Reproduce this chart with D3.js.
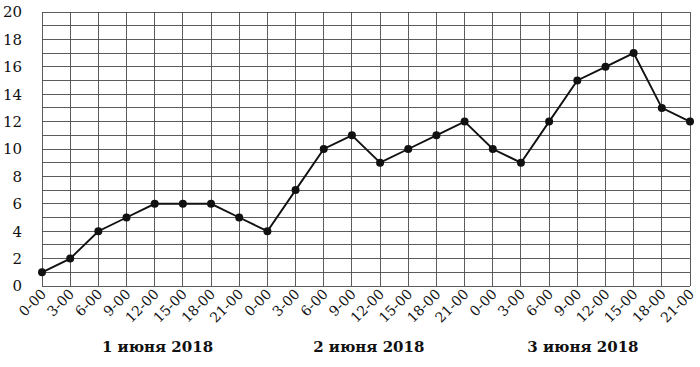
<!DOCTYPE html>
<html><head><meta charset="utf-8">
<script src="https://cdn.jsdelivr.net/npm/d3@7"></script>
<style>body{margin:0;background:#fff}svg{display:block}</style>
</head><body>
<svg id="c" width="700" height="367"></svg>
<script>
const timeLabels = ["0-00","3-00","6-00","9-00","12-00","15-00","18-00","21-00",
  "0-00","3-00","6-00","9-00","12-00","15-00","18-00","21-00",
  "0-00","3-00","6-00","9-00","12-00","15-00","18-00","21-00"];
const values = [1,2,4,5,6,6,6,5,4,7,10,11,9,10,11,12,10,9,12,15,16,17,13,12];
const yTicks = [0,2,4,6,8,10,12,14,16,18,20];
const dayLabels = ["1 июня 2018","2 июня 2018","3 июня 2018"];
const dayCenters = [4.1, 11.6, 19.2];

const svg = d3.select("#c");
const mL = 42, mR = 690, mT = 12, mB = 286;
const x = d3.scaleLinear().domain([0, values.length - 1]).range([mL, mR]);
const y = d3.scaleLinear().domain([0, 20]).range([mB, mT]);

const grid = svg.append("g").attr("stroke", "#4a4a4a").attr("stroke-width", 0.9).attr("shape-rendering","crispEdges");
grid.selectAll("line.h").data(d3.range(0, 21)).join("line").attr("class","h")
  .attr("x1", mL).attr("x2", mR).attr("y1", d => y(d)).attr("y2", d => y(d));
grid.selectAll("line.v").data(d3.range(values.length)).join("line").attr("class","v")
  .attr("y1", mT).attr("y2", mB).attr("x1", d => x(d)).attr("x2", d => x(d));

svg.append("g").attr("font-family", "DejaVu Serif").attr("font-size", 15).attr("fill", "#111")
  .selectAll("text").data(yTicks).join("text")
  .attr("x", 22).attr("y", d => y(d)).attr("dy", "0.36em").attr("text-anchor", "end").text(d => d);

svg.append("g").attr("font-family", "DejaVu Serif").attr("font-size", 14).attr("fill", "#111")
  .selectAll("text").data(timeLabels).join("text")
  .attr("text-anchor", "end")
  .attr("transform", (d, i) => `translate(${x(i) + 5},${mB + 9}) rotate(-45)`)
  .text(d => d);

svg.append("g").attr("font-family", "DejaVu Serif").attr("font-weight", "bold").attr("font-size", 15).attr("fill", "#111")
  .selectAll("text").data(dayLabels).join("text")
  .attr("text-anchor", "middle").attr("x", (d, i) => x(dayCenters[i])).attr("y", 352)
  .text(d => d);

svg.append("path").datum(values)
  .attr("fill", "none").attr("stroke", "#111").attr("stroke-width", 1.9)
  .attr("d", d3.line().x((d, i) => x(i)).y(d => y(d)));

svg.append("g").attr("fill", "#111").selectAll("circle").data(values).join("circle")
  .attr("cx", (d, i) => x(i)).attr("cy", d => y(d)).attr("r", 4);
</script>
</body></html>
